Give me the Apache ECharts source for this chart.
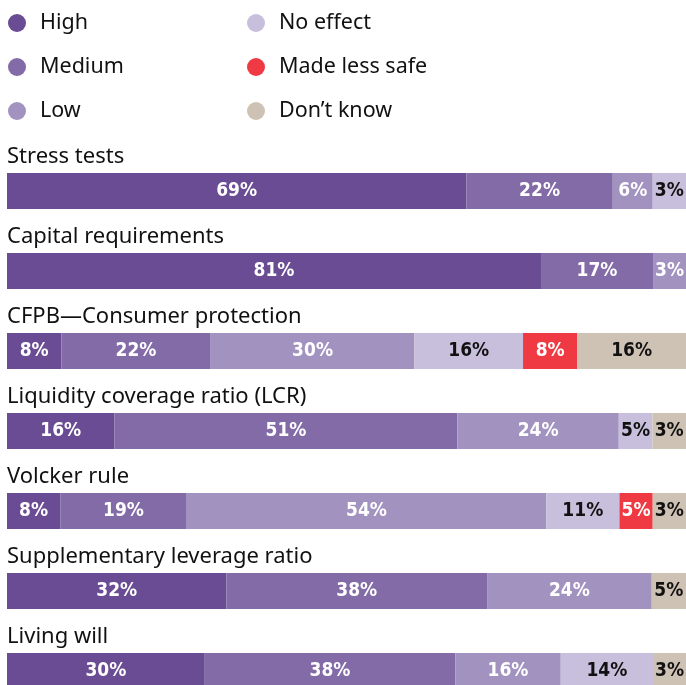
<!DOCTYPE html>
<html><head><meta charset="utf-8">
<script src="https://cdn.jsdelivr.net/npm/echarts@6/dist/echarts.min.js"></script>
<style>html,body{margin:0;padding:0;background:#fff}#c{width:686px;height:685px}</style>
</head><body><div id="c"></div>
<script>
const categories = ["Stress tests","Capital requirements","CFPB\u2014Consumer protection","Liquidity coverage ratio (LCR)","Volcker rule","Supplementary leverage ratio","Living will"];
const seriesNames = ["High","Medium","Low","No effect","Made less safe","Don\u2019t know"];
const high = [69,81,8,16,8,32,30];
const medium = [22,17,22,51,19,38,38];
const low = [6,3,30,24,54,24,16];
const noEffect = [3,null,16,5,11,null,14];
const madeLessSafe = [null,null,8,null,5,null,null];
const dontKnow = [null,null,16,3,3,5,3];

const values = [high, medium, low, noEffect, madeLessSafe, dontKnow];
const colors = ["#694c93","#826ba7","#a292c0","#c8bfdc","#ef3a44","#cdc2b4"];
const labelColors = ["#fff","#fff","#fff","#111","#fff","#111"];
const MIN_SEG = 5;

// segment widths: small segments get a minimum width, each row fills the full bar
const rowTotals = categories.map((_, r) => values.reduce((s, arr) => s + (arr[r] == null ? 0 : Math.max(arr[r], MIN_SEG)), 0));

const FONT = "'Noto Sans', sans-serif";
const series = seriesNames.map((name, i) => ({
  name, type: 'bar', stack: 'all', barWidth: 36, barGap: '-100%', z: 3,
  itemStyle: { color: colors[i] },
  label: {
    show: true, position: 'inside', color: labelColors[i],
    fontFamily: "'DejaVu Sans Condensed', 'DejaVu Sans', sans-serif", fontWeight: 'bold', fontSize: 19,
    formatter: p => p.data && p.data.raw != null ? p.data.raw + '%' : ''
  },
  data: values[i].map((v, r) => v == null ? null : { value: Math.max(v, MIN_SEG) / rowTotals[r] * 100, raw: v })
}));

// invisible full-row carrier used only to place each category title above its bar
series.push({
  name: 'category', type: 'bar', barWidth: 36, barGap: '-100%', silent: true, z: 1,
  itemStyle: { color: 'rgba(0,0,0,0)' },
  label: {
    show: true, position: [0, -16], align: 'left', verticalAlign: 'middle',
    fontFamily: FONT, fontSize: 22, color: '#111',
    formatter: p => categories[p.dataIndex]
  },
  data: categories.map(() => 100)
});

const legendCommon = {
  orient: 'vertical', top: 7, icon: 'circle', itemWidth: 36, itemHeight: 18, itemGap: 22,
  textStyle: { fontFamily: FONT, fontSize: 21.5, color: '#111', lineHeight: 21 }, selectedMode: false
};

const chart = echarts.init(document.getElementById('c'));
chart.setOption({
  animation: false,
  legend: [
    Object.assign({}, legendCommon, { left: 3, data: seriesNames.slice(0, 3) }),
    Object.assign({}, legendCommon, { left: 242, data: seriesNames.slice(3) })
  ],
  grid: { left: 7, right: 0, top: 151, height: 560, outerBoundsMode: 'none', containLabel: false },
  xAxis: { type: 'value', min: 0, max: 100, show: false },
  yAxis: {
    type: 'category', data: categories, inverse: true,
    axisLine: { show: false }, axisTick: { show: false }, axisLabel: { show: false }
  },
  series
});
</script></body></html>
